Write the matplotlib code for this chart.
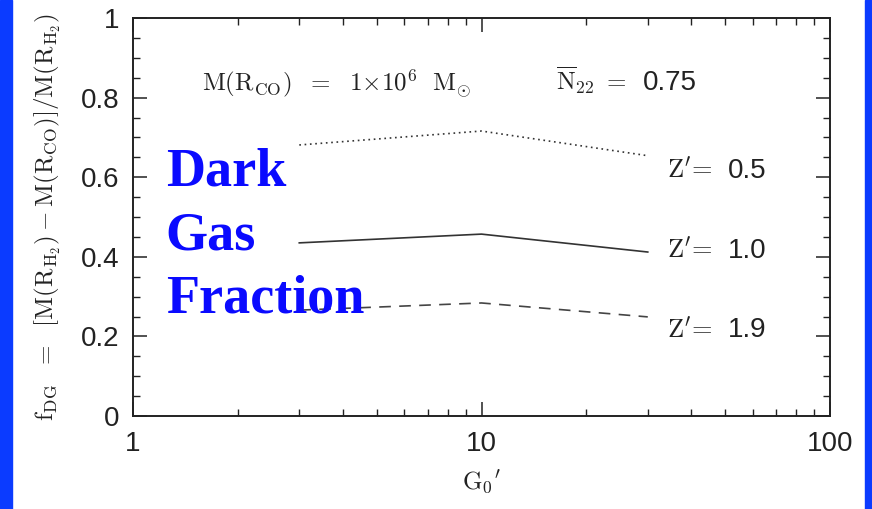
import matplotlib
matplotlib.use("Agg")
import matplotlib.pyplot as plt
from matplotlib.ticker import FixedLocator, MultipleLocator, FuncFormatter, NullFormatter
from matplotlib.patches import Rectangle

plt.rcParams['mathtext.fontset'] = 'cm'
plt.rcParams['font.family'] = ['Liberation Sans', 'DejaVu Sans']

# data
g0 = [3, 10, 30]
fdg_z05 = [0.681, 0.716, 0.654]
fdg_z10 = [0.435, 0.457, 0.412]
fdg_z19 = [0.266, 0.284, 0.249]
z_labels = ["0.5", "1.0", "1.9"]
z_label_y = [0.598, 0.397, 0.198]

INK = "#222222"
BORDER = "#0b3bff"

fig = plt.figure(figsize=(8.72, 5.09), dpi=100)
ax = fig.add_axes([133 / 872, 1 - 416 / 509, 697 / 872, 398 / 509])

# blaue Raender links/rechts
fig.patches.append(Rectangle((0, 0), 12 / 872, 1, transform=fig.transFigure,
                             color=BORDER, zorder=0))
fig.patches.append(Rectangle((865 / 872, 0), 7 / 872, 1, transform=fig.transFigure,
                             color=BORDER, zorder=0))

ax.plot(g0, fdg_z05, color="#333333", linestyle=(0, (1, 2.2)), linewidth=1.2)
ax.plot(g0, fdg_z10, color="#333333", linestyle="-", linewidth=1.2)
ax.plot(g0, fdg_z19, color="#444444", linestyle=(0, (7, 5)), linewidth=1.2)

for lab, yy in zip(z_labels, z_label_y):
    ax.text(34.1, yy, r"$\mathrm{Z}^{\prime}\!=$", fontsize=19,
            color=INK, ha="left", va="baseline")
    ax.text(51.0, yy, lab, fontsize=20, color=INK, ha="left", va="baseline")

# Beschriftung oben
ay = 0.819
ax.text(0.099, ay, r"$\mathrm{M(R_{CO})\ \ =\ \ 1{\times}10^6\ \ M_{\odot}}$",
        transform=ax.transAxes, fontsize=18, color=INK, ha="left", va="baseline")
ax.text(0.607, ay, r"$\mathrm{\overline{N}_{22}\ =}$",
        transform=ax.transAxes, fontsize=18, color=INK, ha="left", va="baseline")
ax.text(0.732, ay, "0.75", transform=ax.transAxes, fontsize=20, color=INK,
        ha="left", va="baseline")

ax.text(0.047, 0.452, "Dark\nGas\nFraction", transform=ax.transAxes,
        fontsize=39, fontweight="bold", family="Liberation Serif",
        color="#0a0aff", ha="left", va="center", linespacing=1.36, zorder=5)

ax.set_xscale("log")
ax.set_xlim(1, 100)
ax.set_ylim(0, 1)
ax.xaxis.set_major_locator(FixedLocator([1, 10, 100]))
ax.xaxis.set_minor_locator(FixedLocator([2, 3, 4, 5, 6, 7, 8, 9,
                                         20, 30, 40, 50, 60, 70, 80, 90]))
ax.xaxis.set_major_formatter(FuncFormatter(lambda v, p: f"{v:g}"))
ax.xaxis.set_minor_formatter(NullFormatter())
ax.yaxis.set_major_locator(MultipleLocator(0.2))
ax.yaxis.set_minor_locator(MultipleLocator(0.05))
ax.yaxis.set_major_formatter(FuncFormatter(lambda v, p: f"{v:g}"))

ax.tick_params(which="both", direction="in", top=True, right=True,
               color=INK, labelcolor=INK, labelsize=20)
ax.tick_params(which="major", length=10, width=1.1)
ax.tick_params(which="minor", length=5, width=1.0)
ax.tick_params(axis="x", pad=11)
ax.tick_params(axis="y", pad=10)
for s in ax.spines.values():
    s.set_linewidth(1.4)
    s.set_color(INK)

ax.set_xlabel(r"$\mathrm{G_0}^{\prime}$", fontsize=18, color=INK)
ax.xaxis.set_label_coords(0.5, -0.133)
ax.set_ylabel(r"$\mathrm{f_{DG}\ \ =\ \ [M(R_{H_2})-M(R_{CO})]/M(R_{H_2})}$",
              fontsize=18, color=INK)
ax.yaxis.set_label_coords(-0.1, 0.5)

fig.savefig("out.png", dpi=100, facecolor="white")
